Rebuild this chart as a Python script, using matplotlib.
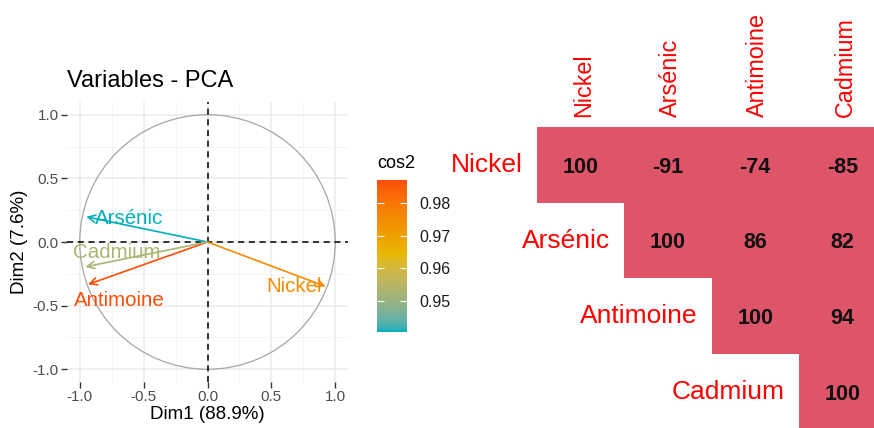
import matplotlib
matplotlib.use("Agg")
import matplotlib.pyplot as plt
import numpy as np
from matplotlib.colors import LinearSegmentedColormap, Normalize, ListedColormap, to_rgb
from matplotlib.cm import ScalarMappable
from matplotlib.patches import Circle

plt.rcParams['font.family'] = ['Liberation Sans', 'DejaVu Sans']

# ---- data ----
variables = ["Nickel", "Arsénic", "Antimoine", "Cadmium"]
dim1 = [0.925, -0.949, -0.935, -0.956]
dim2 = [-0.349, 0.198, -0.333, -0.195]
cos2 = [0.975, 0.9405, 0.987, 0.953]
label_x = [0.68, -0.616, -0.694, -0.712]
label_y = [-0.347, 0.182, -0.456, -0.080]
corr_values = [[100, -91, -74, -85],
               [None, 100, 86, 82],
               [None, None, 100, 94],
               [None, None, None, 100]]
cos2_ticks = [0.95, 0.96, 0.97, 0.98]
axis_ticks = [-1.0, -0.5, 0.0, 0.5, 1.0]
gradient_colors = ["#00AFBB", "#E7B800", "#FC4E07"]

W, H = 874, 428
fig = plt.figure(figsize=(W / 100, H / 100), dpi=100)

def fx(px):
    return px / W

def fy(py):
    return 1 - py / H

# ---- Lab-space gradient (like ggplot2's scale_color_gradientn) ----
_M = np.array([[0.4124564, 0.3575761, 0.1804375],
               [0.2126729, 0.7151522, 0.0721750],
               [0.0193339, 0.1191920, 0.9503041]])
_WP = np.array([0.95047, 1.0, 1.08883])

def rgb2lab(c):
    c = np.asarray(c, float)
    lin = np.where(c <= 0.04045, c / 12.92, ((c + 0.055) / 1.055) ** 2.4)
    xyz = _M @ lin / _WP
    f = np.where(xyz > 216 / 24389, np.cbrt(xyz), (24389 / 27 * xyz + 16) / 116)
    return np.array([116 * f[1] - 16, 500 * (f[0] - f[1]), 200 * (f[1] - f[2])])

def lab2rgb(lab):
    L, a, b = lab
    fy_ = (L + 16) / 116
    fx_ = fy_ + a / 500
    fz_ = fy_ - b / 200
    f = np.array([fx_, fy_, fz_])
    xyz = np.where(f ** 3 > 216 / 24389, f ** 3, (116 * f - 16) / (24389 / 27)) * _WP
    lin = np.linalg.solve(_M, xyz)
    lin = np.clip(lin, 0, 1)
    c = np.where(lin <= 0.0031308, 12.92 * lin, 1.055 * lin ** (1 / 2.4) - 0.055)
    return np.clip(c, 0, 1)

labs = [rgb2lab(to_rgb(c)) for c in gradient_colors]
stops = []
nseg = len(labs) - 1
for k in range(nseg):
    for t in np.linspace(0, 1, 32, endpoint=(k == nseg - 1)):
        stops.append(lab2rgb(labs[k] * (1 - t) + labs[k + 1] * t))
cmap = LinearSegmentedColormap.from_list("fx", stops)
norm = Normalize(vmin=0.9405, vmax=0.987)

# ---- PCA panel ----
ax = fig.add_axes([fx(67), fy(382), fx(348) - fx(67), fy(102) - fy(382)])
ax.set_xlim(-1.1, 1.1)
ax.set_ylim(-1.1, 1.1)
for s in ax.spines.values():
    s.set_visible(False)
ax.set_xticks(axis_ticks)
ax.set_yticks(axis_ticks)
ax.set_xticklabels(["-1.0", "-0.5", "0.0", "0.5", "1.0"])
ax.set_yticklabels(["-1.0", "-0.5", "0.0", "0.5", "1.0"])
ax.set_xticks([-0.75, -0.25, 0.25, 0.75], minor=True)
ax.set_yticks([-0.75, -0.25, 0.25, 0.75], minor=True)
ax.grid(True, which='major', color='#EBEBEB', lw=1.1)
ax.grid(True, which='minor', color='#F3F3F3', lw=0.6)
ax.tick_params(which='minor', length=0)
ax.tick_params(which='major', length=4, width=1, color='#333333',
               labelcolor='#4D4D4D', labelsize=11, pad=2)
ax.set_axisbelow(True)

ax.add_patch(Circle((0, 0), 1.0, fill=False, ec='#A6A6A6', lw=0.9))
ax.axhline(0, color='black', ls=(0, (4, 3)), lw=1.1)
ax.axvline(0, color='black', ls=(0, (4, 3)), lw=1.1)

for name, x, y, c, lx, ly in zip(variables, dim1, dim2, cos2, label_x, label_y):
    col = cmap(norm(c))
    ax.annotate("", xy=(x, y), xytext=(0, 0),
                arrowprops=dict(arrowstyle='->', color=col, lw=1.2,
                                mutation_scale=13, shrinkA=0, shrinkB=0))
    ax.text(lx, ly, name, color=col, fontsize=14.8, ha='center', va='center')

ax.set_xlabel("Dim1 (88.9%)", fontsize=13.5, labelpad=1)
ax.set_ylabel("Dim2 (7.6%)", fontsize=13.5, labelpad=3)
fig.text(fx(67), fy(81), "Variables - PCA", fontsize=17, ha='left', va='center')

# ---- colorbar ----
cax = fig.add_axes([fx(377), fy(332), fx(407) - fx(377), fy(180) - fy(332)])
sm = ScalarMappable(norm=norm, cmap=cmap)
cb = fig.colorbar(sm, cax=cax, ticks=cos2_ticks)
cb.outline.set_visible(False)
cb.ax.set_yticklabels(["0.95", "0.96", "0.97", "0.98"])
cax.tick_params(axis='y', direction='in', length=5, width=0.8, color='white',
                left=True, right=True, labelcolor='#1A1A1A', labelsize=11.5, pad=9)
fig.text(fx(377), fy(163), "cos2", fontsize=13, ha='left', va='center')

# ---- correlation matrix panel ----
cell_w, cell_h = 87.3, 75.7
x0, y0 = 537, 127
rax = fig.add_axes([fx(x0), fy(y0 + 4 * cell_h), fx(x0 + 4 * cell_w) - fx(x0),
                    fy(y0) - fy(y0 + 4 * cell_h)])
n = len(variables)
mat = np.ma.masked_invalid(np.array([[np.nan if v is None else v for v in row]
                                     for row in corr_values], dtype=float))
rax.pcolormesh(np.arange(n + 1), np.arange(n + 1), mat,
               cmap=ListedColormap(["#DE5569"]), shading='flat')
rax.set_xlim(0, n)
rax.set_ylim(n, 0)
rax.axis('off')

for i, row in enumerate(corr_values):
    for j, v in enumerate(row):
        if v is not None:
            rax.text(j + 0.5, i + 0.53, str(v), ha='center', va='center',
                     fontsize=15.5, fontweight='bold', color='#111111')
for i, name in enumerate(variables):
    rax.text(i - 0.16, i + 0.5, name, ha='right', va='center', color='#FF0000',
             fontsize=19, clip_on=False)
    rax.text(i + 0.53, -0.13, name, ha='center', va='bottom', rotation=90,
             color='#FF0000', fontsize=16.8, clip_on=False)

fig.savefig("out.png", dpi=100)
